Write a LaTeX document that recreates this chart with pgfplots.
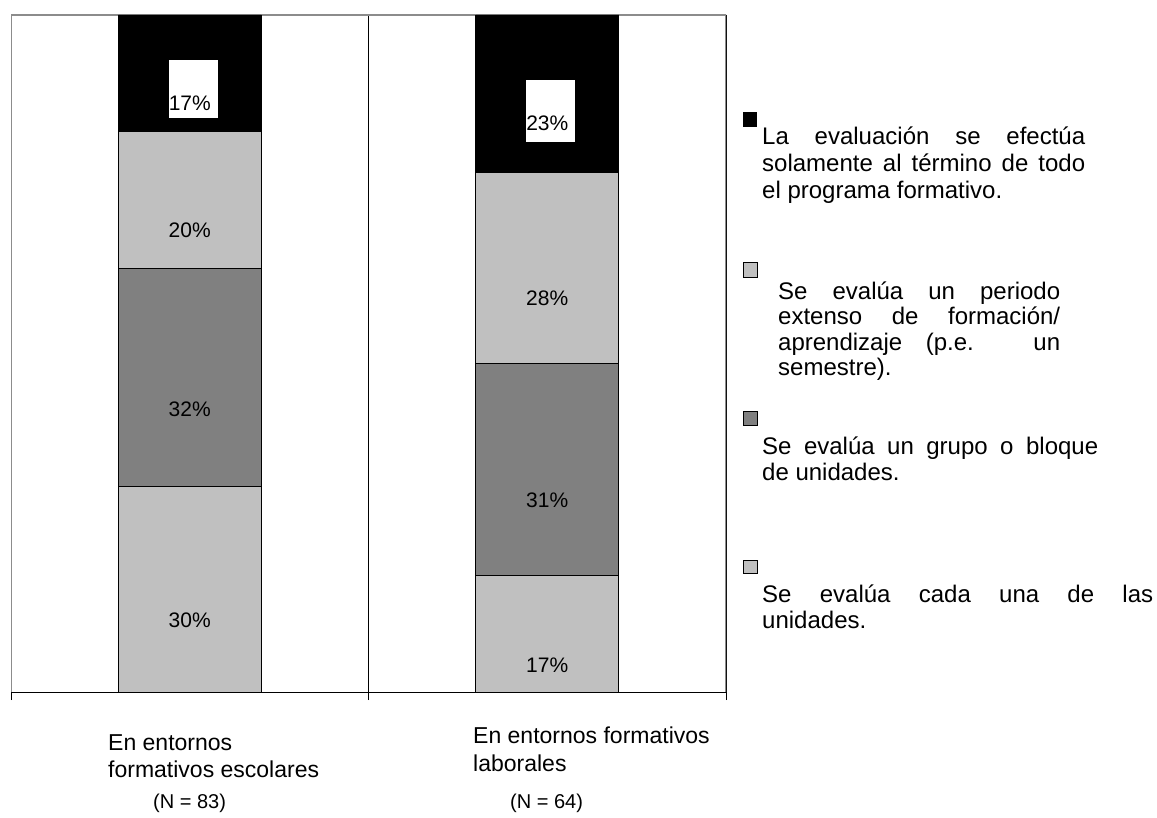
\documentclass[border=0pt]{standalone}
\usepackage{pgfplots}
\pgfplotsset{compat=1.18}
\usepackage{fontspec}
\setmainfont{Liberation Sans}
\definecolor{lgray}{HTML}{C0C0C0}
\definecolor{dgray}{HTML}{808080}
\definecolor{framec}{HTML}{8C8C8C}
\newcommand{\jline}[4]{\node[anchor=base west, inner sep=0] at (#1,-#2) {\makebox[#3pt][s]{#4}};}
\newcommand{\nline}[3]{\node[anchor=base west, inner sep=0] at (#1,-#2) {#3};}
\begin{document}
\begin{tikzpicture}[x=1pt,y=1pt]
\path[use as bounding box] (0,0) rectangle (1157,-818);
\begin{axis}[
  at={(11pt,-692pt)}, anchor=south west,
  scale only axis, width=715pt, height=677pt,
  ybar stacked, bar width=143pt,
  xmin=-0.5, xmax=1.5, ymin=0, ymax=99,
  axis x line*=bottom, axis y line=none,
  x axis line style={black, line width=1pt},
  xtick={-0.5,0.5,1.5}, xticklabels={,,},
  tick align=outside, major tick length=8pt,
  xtick style={black, line width=0.8pt},
  ytick=\empty,
  xmajorgrids=true, major grid style={black, line width=0.8pt},
]
\addplot[fill=lgray, draw=black, line width=0.9pt] coordinates {(0,30) (1,17)};
\addplot[fill=dgray, draw=black, line width=0.9pt] coordinates {(0,32) (1,31)};
\addplot[fill=lgray, draw=black, line width=0.9pt] coordinates {(0,20) (1,28)};
\addplot[fill=black, draw=black, line width=0.9pt] coordinates {(0,17) (1,23)};
\draw[framec, line width=1.3pt] (rel axis cs:0,0) -- (rel axis cs:0,1) -- (rel axis cs:1,1) -- (rel axis cs:1,0);
\end{axis}
\begin{axis}[
  at={(11pt,-692pt)}, anchor=south west,
  scale only axis, width=715pt, height=677pt,
  xmin=-0.5, xmax=1.5, ymin=0, ymax=99, hide axis,
  nodes near coords, point meta=explicit symbolic,
]
\addplot[draw=none, mark=none, nodes near coords style={anchor=base, inner sep=0pt, font=\fontsize{21}{24}\selectfont}]
  coordinates {(0,9.36)[30\%] (0,40.36)[32\%] (0,66.39)[20\%] (1,2.92)[17\%] (1,26.91)[31\%] (1,56.45)[28\%]};
\addplot[draw=none, mark=none, nodes near coords style={anchor=base, inner sep=0pt, fill=white, text width=49pt, align=left, text height=51pt, text depth=7pt, xshift=3.5pt, font=\fontsize{21}{24}\selectfont}]
  coordinates {(0,84.97)[17\%]};
\addplot[draw=none, mark=none, nodes near coords style={anchor=base, inner sep=0pt, fill=white, text width=49pt, align=left, text height=51pt, text depth=11pt, xshift=3.5pt, font=\fontsize{21}{24}\selectfont}]
  coordinates {(1,82.04)[23\%]};
\end{axis}
% legend
\fill[black] (743,-112) rectangle (757,-127);
\filldraw[fill=lgray, draw=black, line width=0.7pt] (743,-262) rectangle (757,-277);
\filldraw[fill=dgray, draw=black, line width=0.7pt] (743,-411) rectangle (757,-425);
\filldraw[fill=lgray, draw=black, line width=0.7pt] (743,-560) rectangle (757,-573);
\begin{scope}[font=\fontsize{24}{27}\selectfont]
\jline{762}{145}{323}{La evaluación se efectúa}
\jline{762}{172}{323}{solamente al término de todo}
\nline{762}{199}{el programa formativo.}
\jline{778}{300}{282}{Se evalúa un periodo}
\jline{778}{325}{282}{extenso de formación/}
\jline{778}{351}{282}{aprendizaje (p.e. un}
\nline{778}{376}{semestre).}
\jline{762}{454}{336}{Se evalúa un grupo o bloque}
\nline{762}{480}{de unidades.}
\jline{762}{602}{391}{Se evalúa cada una de las}
\nline{762}{628}{unidades.}
\end{scope}
% category labels
\begin{scope}[font=\fontsize{23}{26}\selectfont]
\nline{108}{750}{En entornos}
\nline{108}{777}{formativos escolares}
\nline{473}{743}{En entornos formativos}
\nline{473}{771}{laborales}
\end{scope}
\begin{scope}[font=\fontsize{20}{24}\selectfont]
\nline{153}{808}{(N = 83)}
\nline{510}{808}{(N = 64)}
\end{scope}
\end{tikzpicture}
\end{document}
